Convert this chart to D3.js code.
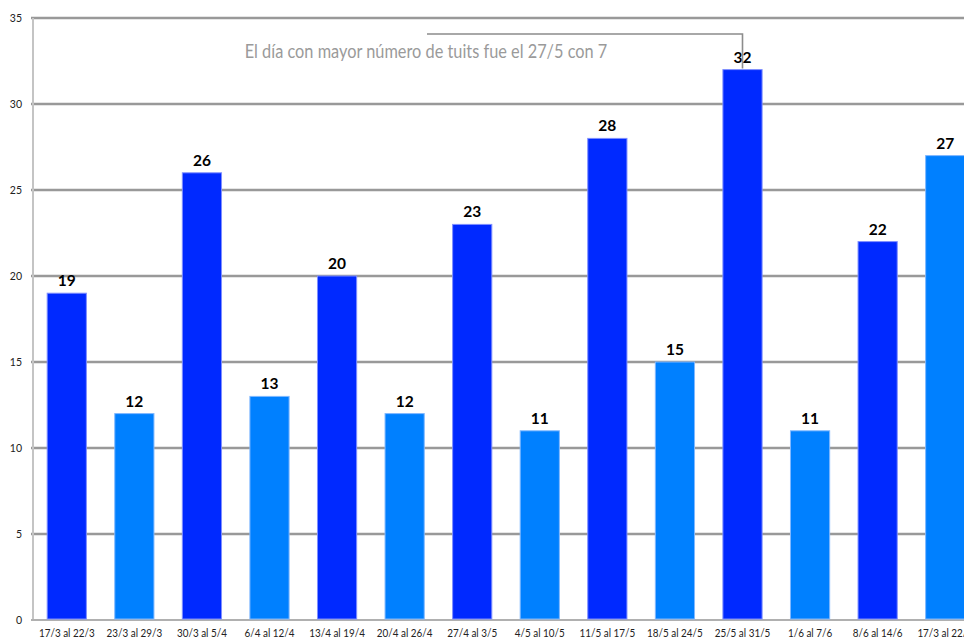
<!DOCTYPE html>
<html>
<head>
<meta charset="utf-8">
<script src="https://cdn.jsdelivr.net/npm/d3@7"></script>
<style>
  html, body { margin: 0; padding: 0; background: #fff; overflow: hidden; }
  svg { display: block; }
  .narrow { font-family: "Liberation Sans Narrow", "Lato", sans-serif; }
</style>
</head>
<body>
<svg id="chart" width="964" height="639"></svg>
<script>
// Weekly tweet counts
const weeks = ["17/3 al 22/3", "23/3 al 29/3", "30/3 al 5/4", "6/4 al 12/4", "13/4 al 19/4",
  "20/4 al 26/4", "27/4 al 3/5", "4/5 al 10/5", "11/5 al 17/5", "18/5 al 24/5",
  "25/5 al 31/5", "1/6 al 7/6", "8/6 al 14/6", "17/3 al 22/3"];
const tweets = [19, 12, 26, 13, 20, 12, 23, 11, 28, 15, 32, 11, 22, 27];
const yTicks = [0, 5, 10, 15, 20, 25, 30, 35];
const note = "El día con mayor número de tuits fue el 27/5 con 7";
const noteWeek = "25/5 al 31/5";

const svg = d3.select("#chart");
const plotLeft = 33, plotTop = 18, plotBottom = 620, plotRight = 979;

const x = d3.scaleBand().domain(d3.range(weeks.length)).range([plotLeft, plotRight])
  .paddingInner(0.42).paddingOuter(0.21);
const y = d3.scaleLinear().domain([0, 35]).range([plotBottom, plotTop]);

// horizontal gridlines
svg.append("g").selectAll("line").data(yTicks.filter(d => d > 0)).join("line")
  .attr("x1", plotLeft - 2).attr("x2", 964)
  .attr("y1", d => y(d)).attr("y2", d => y(d))
  .attr("stroke", "#999").attr("stroke-width", 2.4);

// y axis line
svg.append("line").attr("x1", plotLeft).attr("x2", plotLeft).attr("y1", plotTop).attr("y2", plotBottom)
  .attr("stroke", "#c4c4c4").attr("stroke-width", 2);
// baseline
svg.append("line").attr("x1", plotLeft - 2).attr("x2", 964).attr("y1", plotBottom).attr("y2", plotBottom)
  .attr("stroke", "#b0b0b0").attr("stroke-width", 2);

// y tick labels
svg.append("g").selectAll("text").data(yTicks).join("text")
  .attr("class", "narrow")
  .attr("x", 22).attr("y", d => y(d) + 3.5)
  .attr("text-anchor", "end")
  .attr("font-size", 10.5).attr("fill", "#222")
  .text(d => d);

// bars
svg.append("g").selectAll("rect").data(tweets).join("rect")
  .attr("x", (d, i) => x(i))
  .attr("y", d => y(d))
  .attr("width", x.bandwidth())
  .attr("height", d => plotBottom - 1 - y(d))
  .attr("fill", (d, i) => i % 2 === 0 ? "#0029ff" : "#0080ff")
  .attr("stroke", (d, i) => i % 2 === 0 ? "#7f8fff" : "#80b8ff")
  .attr("stroke-width", 1);

// value labels
svg.append("g").selectAll("text").data(tweets).join("text")
  .attr("x", (d, i) => x(i) + x.bandwidth() / 2)
  .attr("y", d => y(d) - 7)
  .attr("text-anchor", "middle")
  .attr("font-family", "Lato, sans-serif").attr("font-weight", "bold")
  .attr("font-size", 15.5).attr("fill", "#000")
  .text(d => d);

// category labels (slightly condensed)
svg.append("g").selectAll("text").data(weeks).join("text")
  .attr("class", "narrow")
  .attr("transform", (d, i) => `translate(${x(i) + x.bandwidth() / 2},637) scale(0.9,1)`)
  .attr("text-anchor", "middle")
  .attr("font-size", 11).attr("fill", "#222")
  .text(d => d);

// annotation with leader line to the peak week
const ni = weeks.indexOf(noteWeek);
const nx = x(ni) + x.bandwidth() / 2;
svg.append("path")
  .attr("d", `M427,34 H${nx} V${y(tweets[ni]) - 1}`)
  .attr("fill", "none").attr("stroke", "#8c8c8c").attr("stroke-width", 1.6);
svg.append("text")
  .attr("class", "narrow")
  .attr("transform", "translate(426,58) scale(0.86,1)")
  .attr("text-anchor", "middle")
  .attr("font-size", 19).attr("fill", "#9a9a9a")
  .text(note);
</script>
</body>
</html>
